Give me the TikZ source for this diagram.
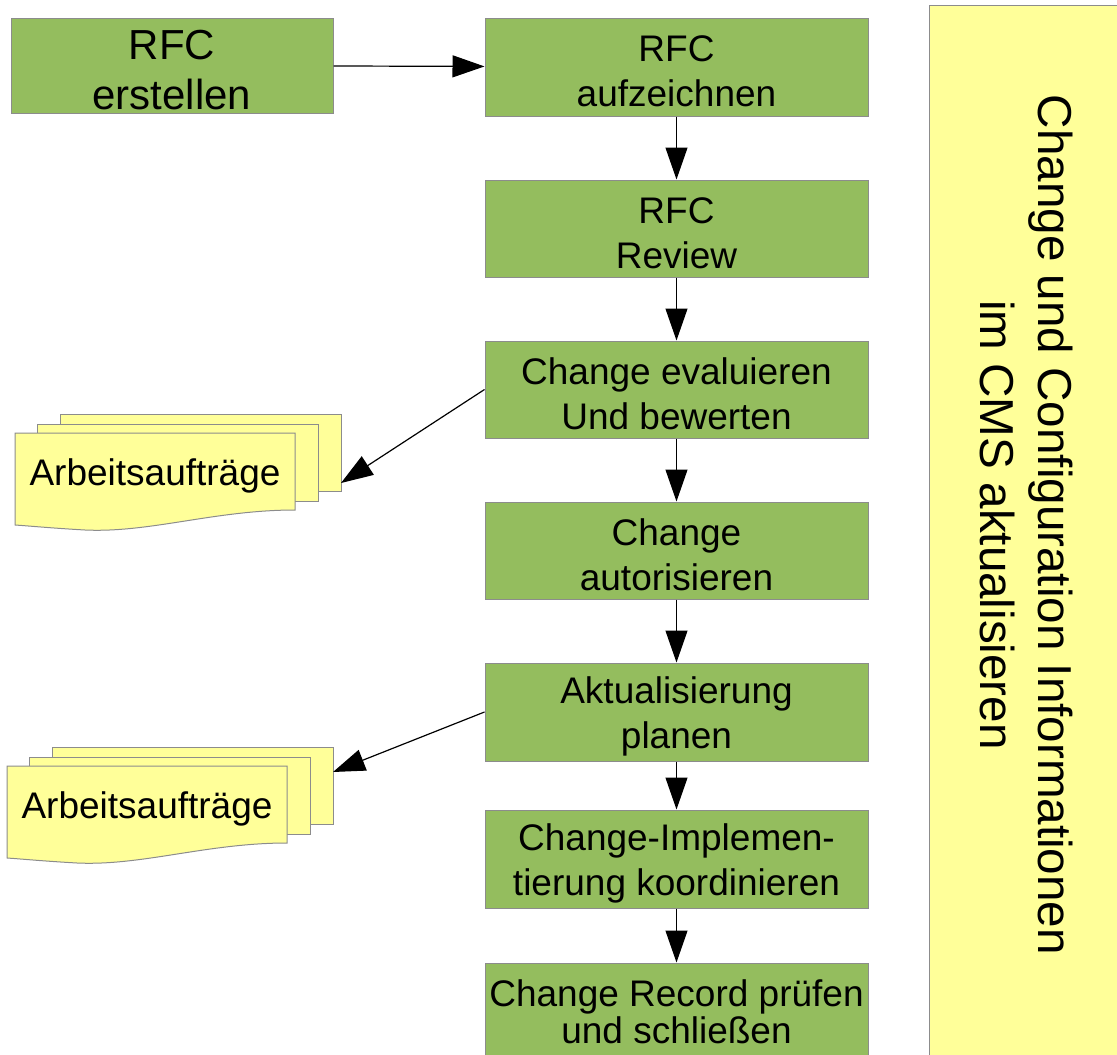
\documentclass[tikz,border=0pt]{standalone}
\usepackage{fontspec}
\setmainfont{Liberation Sans}
\usetikzlibrary{arrows.meta,positioning}
\definecolor{procgreen}{HTML}{94BD5E}
\definecolor{noteyellow}{HTML}{FFFF99}
\definecolor{edgegray}{HTML}{8C8C8C}
\tikzset{
  process/.style={draw=edgegray, fill=procgreen, line width=1pt, align=center, minimum width=383pt, minimum height=97pt, inner sep=0pt, font=\fontsize{37}{45}\selectfont, text height=80pt},
  sheet/.style={draw=edgegray, fill=noteyellow, line width=1pt},
  page/.style={sheet, minimum width=281pt, minimum height=77pt, inner sep=0pt},
  arrow/.style={-{Triangle[length=32pt,width=22pt]}, line width=1.2pt, draw=black}
}

\begin{document}
\begin{tikzpicture}[x=1pt, y=-1pt]
  \clip (0,0) rectangle (1117,1055);

  % Prozessschritte
  \node[process, minimum width=322pt, minimum height=95pt, font=\fontsize{42}{50}\selectfont, text height=88pt] (erstellen) at (172,65.5) {RFC\\erstellen};
  \node[process, minimum height=98pt] (aufzeichnen) at (676.5,67) {RFC\\aufzeichnen};
  \node[process] (review) at (676.5,228.5) {RFC\\Review};
  \node[process] (evaluieren) at (676.5,389.5) {Change evaluieren\\Und bewerten};
  \node[process] (autorisieren) at (676.5,550.5) {Change\\autorisieren};
  \node[process, minimum height=98pt] (planen) at (676.5,712) {Aktualisierung\\planen};
  \node[process, minimum height=98pt] (koordinieren) at (676.5,859) {Change-Implemen-\\tierung koordinieren};
  \node[process, minimum height=98pt, font=\fontsize{37}{37}\selectfont, text height=64pt] (pruefen) at (676.5,1012) {Change Record prüfen\\und schließen};

  % CMS-Spalte
  \node[sheet, minimum width=201pt, minimum height=1065pt, inner sep=0pt] (cmspanel) at (1029.5,537.5) {};
  \node[rotate=-90, align=center, font=\fontsize{47.6}{58}\selectfont] (cms) at (1027,525) {Change und Configuration Informationen\\im CMS aktualisieren};

  % Arbeitsauftraege
  \node[page] (back1) at (200.5,452.5) {};
  \node[page] (middle1) at (177.5,462.5) {};
  \draw[sheet] (15,433) -- (295,433) -- (295,510) .. controls (215,510) and (150,533) .. (85,530) .. controls (50,528) and (30,526) .. (15,525) -- cycle;
  \node[font=\fontsize{37}{45}\selectfont] (auftrag1) at (155,476) {Arbeitsaufträge};

  \begin{scope}[shift={(-8,333)}]
    \node[page] (back2) at (200.5,452.5) {};
    \node[page] (middle2) at (177.5,462.5) {};
    \draw[sheet] (15,433) -- (295,433) -- (295,510) .. controls (215,510) and (150,533) .. (85,530) .. controls (50,528) and (30,526) .. (15,525) -- cycle;
    \node[font=\fontsize{37}{45}\selectfont] (auftrag2) at (155,476) {Arbeitsaufträge};
  \end{scope}

  \coordinate (tip1) at (341,483);
  \coordinate (tip2) at (333,772);

  \draw[arrow] (erstellen) -- (aufzeichnen);
  \draw[arrow] (aufzeichnen) -- (review);
  \draw[arrow] (review) -- (evaluieren);
  \draw[arrow] (evaluieren) -- (autorisieren);
  \draw[arrow] (autorisieren) -- (planen);
  \draw[arrow] (planen) -- (koordinieren);
  \draw[arrow] (koordinieren) -- (pruefen);
  \draw[arrow] (evaluieren.west) -- (tip1);
  \draw[arrow] (planen.west) -- (tip2);
\end{tikzpicture}
\end{document}
